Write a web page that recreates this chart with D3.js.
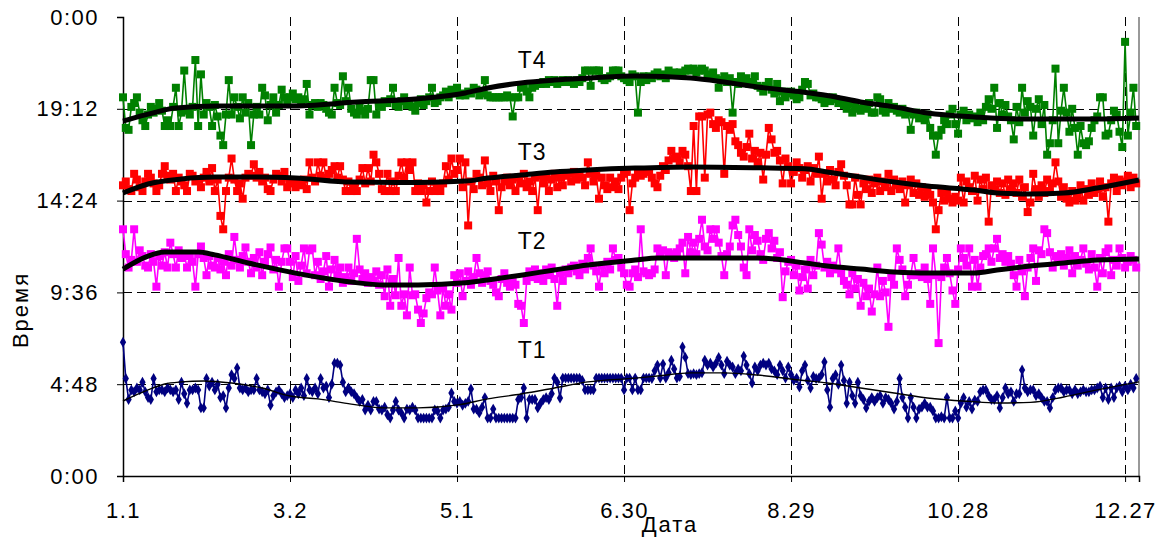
<!DOCTYPE html>
<html><head><meta charset="utf-8">
<script src="https://cdn.jsdelivr.net/npm/d3@7"></script>
<style>body{margin:0;background:#fff}svg{display:block}</style>
</head><body>
<svg id="c" width="1168" height="539"></svg>
<script>
// ---- data ----
const xTickDays = [1, 61, 121, 181, 241, 301, 361];
const xTickLabels = ["1.1", "3.2", "5.1", "6.30", "8.29", "10.28", "12.27"];
const yTicks = [0, 4.8, 9.6, 14.4, 19.2, 24];
const yTickLabels = ["0:00", "4:48", "9:36", "14:24", "19:12", "0:00"];
const seriesNames = ["T1", "T2", "T3", "T4"];
const seriesColors = ["#000080", "#ff00ff", "#ff0000", "#008000"];
// label anchor (day, hour)
const labelPos = [[148, 6.6], [148, 12.3], [148, 16.95], [148, 21.75]];

// daily values (hours), day 1..365
const t1 = [7.0,5.1,4.0,4.5,4.4,4.6,4.5,4.9,4.4,4.1,
4.0,5.1,4.4,4.5,4.5,4.4,4.6,4.5,4.4,4.5,
4.0,4.9,4.3,3.8,4.5,4.5,4.6,4.5,3.56,3.56,
5.1,4.7,4.9,4.5,4.8,4.1,4.2,3.56,4.6,5.3,
5.1,5.65,4.6,4.5,4.6,4.4,4.5,4.5,5.1,4.5,
4.4,4.3,4.5,3.7,4.2,4.4,4.5,4.3,4.1,4.2,
4.3,4.1,4.5,4.3,4.6,4.2,5.1,4.5,4.4,4.6,
4.3,5.1,4.6,4.7,4.1,4.8,5.9,5.9,5.8,4.9,
4.4,4.6,4.4,4.3,4.1,3.9,4.0,3.45,3.7,3.45,
3.9,3.9,3.5,3.45,3.6,3.2,3.03,3.45,3.9,3.45,
3.3,3.03,3.5,3.45,3.6,3.45,3.03,3.03,3.03,3.03,
3.03,3.03,3.45,3.4,3.03,3.45,3.5,3.6,4.34,3.9,
3.8,3.9,3.7,3.8,3.9,4.55,3.5,3.5,3.3,3.6,
4.1,3.03,3.03,3.5,3.03,3.03,3.03,3.03,3.03,3.03,
3.03,3.03,4.0,4.1,4.6,3.03,4.0,4.0,4.0,3.56,
3.8,4.0,4.1,4.0,4.3,5.12,4.9,4.08,5.12,5.12,
5.12,5.12,5.12,5.12,5.12,5.0,4.5,4.5,4.5,4.5,
5.12,5.12,5.12,5.12,5.12,5.12,5.12,5.12,5.12,5.12,
4.5,5.12,5.12,4.5,5.12,4.5,4.5,5.12,5.12,5.12,
5.1,5.5,5.8,5.12,5.85,5.12,5.4,6.05,5.6,5.12,
5.2,6.75,6.2,5.35,5.3,5.35,5.3,5.35,5.4,6.05,
5.8,5.9,5.7,5.9,6.2,5.8,5.35,6.0,5.8,5.7,
5.35,5.6,5.5,6.27,5.8,5.35,4.86,5.7,5.5,5.8,
5.9,5.8,5.9,5.6,5.5,5.3,5.8,5.5,5.12,5.7,
5.3,5.0,5.12,4.65,5.5,5.8,5.0,4.6,5.2,5.1,
5.12,5.3,5.96,4.5,3.6,5.1,5.3,4.8,5.8,5.0,
3.8,4.9,4.2,3.8,4.9,4.2,4.0,3.56,3.9,4.1,
3.9,4.1,4.2,3.8,4.1,4.0,3.8,3.5,3.9,5.1,
4.1,3.6,3.03,4.1,3.6,3.03,3.5,3.6,3.8,3.6,
3.6,3.4,3.03,3.03,3.1,3.03,4.1,3.03,3.03,3.4,
3.03,3.8,4.1,3.6,3.9,3.5,3.97,3.9,4.4,4.5,
4.5,4.2,4.0,4.0,4.2,3.56,4.1,4.6,4.3,4.4,
3.9,4.3,4.3,5.54,4.6,4.4,4.5,4.5,4.2,4.3,
4.1,3.9,3.9,3.56,4.1,4.5,4.6,4.6,4.4,4.5,
4.5,4.3,4.5,4.3,4.4,4.5,4.4,4.4,4.5,4.5,
4.6,4.7,4.1,4.6,4.0,4.6,4.1,4.6,4.7,4.4,
4.7,4.5,4.8,4.6,5.1];

const t2 = [12.9,11.6,10.9,11.3,12.9,11.2,11.8,11.5,11.0,10.9,
11.6,11.2,9.9,11.5,11.0,11.7,10.9,12.2,11.6,10.9,
11.8,11.4,11.6,10.9,11.5,11.2,9.9,11.6,12.0,11.4,
10.5,11.5,11.0,10.9,11.4,10.8,11.2,10.5,11.6,11.0,
12.5,11.3,10.9,11.5,11.95,11.2,10.6,11.4,10.9,11.7,
10.5,11.2,11.6,11.95,10.8,11.3,9.9,11.2,11.9,11.9,
11.2,10.4,11.5,10.2,11.0,11.9,10.6,11.8,11.9,10.5,
11.2,10.3,10.7,11.5,9.9,10.8,11.3,10.5,10.9,10.1,
10.4,10.9,10.2,10.6,12.4,10.8,10.3,10.6,10.1,10.4,
10.2,10.7,10.0,10.5,9.4,10.8,8.9,10.3,9.45,11.4,
8.9,9.5,8.4,10.9,9.45,9.5,8.7,8.0,8.5,9.3,
9.6,9.5,10.9,9.7,8.4,9.8,8.9,9.5,8.7,10.5,
10.1,10.6,9.4,10.2,10.7,10.0,10.4,11.4,10.6,10.1,
10.5,10.7,10.2,10.0,9.6,9.4,10.3,10.6,10.1,9.9,
10.3,10.0,9.0,8.9,8.0,10.2,10.7,10.4,10.8,10.3,
10.6,10.2,10.8,10.5,10.9,10.3,8.9,10.6,10.2,10.8,
10.6,10.9,11.0,10.7,10.5,11.1,10.8,11.4,11.9,11.0,
10.7,9.9,11.0,10.6,11.2,10.8,11.9,11.3,11.4,10.9,
10.6,10.0,9.9,10.6,10.8,10.4,12.9,10.7,10.6,10.5,
10.6,10.8,11.9,11.5,11.8,10.5,11.7,11.6,11.4,11.7,
11.9,12.2,10.6,12.5,11.7,12.2,11.6,12.4,13.4,12.0,
11.8,12.9,12.4,12.9,12.2,11.5,10.5,11.6,12.0,13.1,
13.4,12.6,12.0,10.9,10.5,12.9,11.8,12.6,12.3,11.6,
11.3,12.4,12.7,11.9,12.3,11.4,11.7,9.35,10.7,11.2,
11.3,10.5,11.0,9.7,10.4,10.8,9.8,11.3,10.5,11.0,
12.7,12.1,10.9,11.2,10.6,11.0,10.8,11.9,10.6,10.2,
10.0,9.5,10.6,9.8,10.3,8.9,10.1,9.4,9.8,8.6,
9.5,10.9,9.4,10.2,9.6,7.8,10.4,10.0,11.9,11.3,
10.8,9.4,10.0,10.5,11.4,10.5,10.6,10.4,10.9,10.3,
9.0,11.9,10.5,6.95,10.4,10.9,11.4,10.6,9.7,9.0,
10.8,11.9,11.4,11.0,11.9,9.9,11.3,9.9,10.9,11.5,
11.6,11.9,11.2,11.9,12.4,11.4,11.6,11.2,11.5,11.1,
10.5,9.9,11.3,10.7,9.4,10.9,11.4,11.9,10.2,11.8,
11.6,12.9,12.7,11.7,10.9,11.5,11.3,11.6,11.0,11.4,
11.8,10.6,11.5,11.0,11.3,11.9,11.1,10.8,11.6,10.9,
9.9,11.4,10.6,11.7,11.9,10.5,11.3,11.0,11.9,11.4,
10.9,11.2,11.5,11.3,10.9];

const t3 = [15.2,15.4,15.0,14.9,15.8,15.5,15.1,14.9,15.4,15.8,
15.6,15.3,14.9,15.2,15.8,16.2,15.7,15.5,15.8,14.9,
15.6,15.4,15.2,14.9,15.8,15.7,15.4,15.5,15.1,15.6,
15.9,15.4,16.1,14.9,15.5,13.6,12.9,14.9,15.6,16.6,
15.5,14.9,15.3,14.5,15.6,15.8,15.7,16.3,15.6,15.9,
15.4,15.6,15.0,14.9,15.5,15.8,15.7,15.4,15.9,15.1,
15.3,15.4,15.1,15.4,15.2,15.5,15.0,16.4,15.6,15.4,
16.4,15.7,16.4,15.6,15.8,16.0,16.2,15.6,16.2,15.5,
14.9,15.4,14.9,15.2,14.9,15.5,16.1,15.3,16.1,15.4,
16.8,16.4,15.8,15.0,14.9,15.8,14.9,15.4,14.9,15.7,
16.4,15.6,16.4,16.0,16.4,14.9,15.3,14.9,15.2,14.3,
14.9,15.4,14.9,15.1,14.9,15.3,16.2,15.5,16.6,15.8,
16.0,16.6,15.1,16.4,13.1,15.4,15.0,15.8,15.6,15.2,
16.5,15.3,14.9,15.7,15.4,13.9,15.1,15.4,15.6,15.2,
15.5,14.9,15.6,15.3,15.8,15.1,15.4,14.9,15.6,13.9,
15.7,15.3,15.6,14.9,15.5,15.8,15.1,15.6,15.2,15.7,
15.8,15.4,15.9,15.5,15.7,15.6,15.2,16.4,15.8,15.4,
15.7,14.5,15.6,15.2,15.0,15.6,15.1,15.4,15.0,15.6,
15.8,15.9,13.9,15.3,15.6,15.9,15.7,15.8,16.0,15.9,
15.6,15.3,15.1,15.7,16.2,16.0,16.5,17.0,16.6,16.7,
16.4,17.0,16.8,16.2,14.9,18.3,14.9,18.8,18.8,15.6,
18.9,19.0,18.4,18.2,18.6,18.5,15.8,18.3,18.1,18.4,
17.5,17.3,16.9,16.7,17.2,17.9,16.6,17.0,16.4,16.9,
15.5,16.8,18.2,17.6,16.9,17.0,16.5,15.3,16.6,16.2,
15.3,15.9,16.4,16.1,15.6,16.0,16.2,15.4,16.1,15.8,
16.7,14.5,15.8,15.4,16.0,15.5,15.2,15.9,16.3,15.7,
15.2,14.2,14.2,15.6,14.7,14.2,15.3,15.0,15.5,14.8,
15.3,15.6,14.9,15.4,15.1,15.8,14.9,15.5,15.2,15.0,
15.4,14.3,15.2,15.5,14.8,15.3,14.7,15.1,14.6,15.0,
14.7,14.3,12.9,13.9,14.8,14.4,14.9,14.5,14.3,14.6,
14.4,15.6,14.3,15.4,15.1,14.9,15.7,14.4,15.5,15.0,
15.6,13.3,15.2,15.0,15.4,14.8,15.3,14.7,15.5,15.0,
15.3,14.8,15.5,14.6,15.1,13.8,14.3,15.8,15.0,14.6,
15.2,14.8,15.5,14.9,15.3,16.4,15.4,14.6,15.1,14.5,
14.3,14.9,14.4,14.6,15.2,14.4,15.0,14.7,15.3,14.8,
15.0,15.4,14.6,15.1,13.3,15.3,15.6,14.9,15.5,15.2,
15.4,15.7,15.1,15.6,15.3];

const t4 = [19.8,18.2,18.1,19.3,19.5,19.8,19.0,18.6,18.3,18.9,
19.3,19.0,19.2,19.5,19.1,18.3,18.6,18.3,19.3,20.3,
18.3,19.0,21.2,19.1,18.9,19.3,21.75,18.3,21.0,18.9,
19.5,19.3,18.3,19.4,18.8,17.8,17.3,18.9,20.7,18.9,
19.8,19.3,18.7,19.8,19.0,19.5,17.3,18.9,19.3,18.9,
20.3,19.9,18.6,19.4,19.8,19.0,19.4,20.2,19.8,19.5,
19.8,20.0,19.7,19.8,19.6,19.7,20.5,18.9,19.4,19.5,
19.3,19.5,19.4,19.2,19.0,18.9,20.3,19.5,19.4,20.9,
19.6,20.3,19.2,19.0,18.9,19.3,19.1,18.9,19.2,20.7,
20.7,18.9,19.4,19.3,19.6,19.5,19.7,20.3,19.4,19.3,
19.6,19.8,19.4,19.5,19.3,19.1,19.5,19.7,19.4,19.6,
19.8,20.3,19.5,19.6,19.8,19.9,20.1,19.8,20.2,20.0,
20.3,19.9,20.0,19.9,20.1,20.0,20.3,20.2,19.9,20.0,
20.7,19.9,19.8,19.8,19.8,19.8,19.8,19.8,19.9,19.8,
18.8,19.8,19.8,20.3,20.4,20.1,19.8,20.3,20.4,20.5,
20.5,20.6,20.5,20.7,20.6,20.7,20.5,20.6,20.7,20.6,
20.7,20.6,20.5,20.7,20.6,20.8,21.2,21.2,20.4,21.2,
21.2,21.2,20.8,20.7,20.8,20.9,21.2,21.2,21.2,20.9,
20.8,20.7,20.6,21.0,20.9,19.0,20.6,20.9,20.7,20.9,
20.8,21.0,21.1,20.9,21.0,20.8,21.2,21.0,21.1,21.0,
21.1,21.0,21.2,21.3,21.2,21.3,21.1,21.2,21.3,21.2,
21.0,20.9,21.1,20.8,20.3,20.7,20.9,20.6,20.8,19.0,
20.6,20.5,20.9,20.7,20.8,20.5,20.6,20.9,20.4,20.3,
20.1,20.4,20.6,20.2,20.0,20.5,19.6,20.1,19.8,20.0,
20.1,19.9,19.7,19.8,20.2,20.6,20.5,19.9,20.0,19.8,
19.8,19.7,19.5,19.7,19.6,19.8,19.7,19.5,19.6,19.4,
19.2,19.5,19.0,19.3,19.2,19.1,19.4,19.2,19.5,19.0,
19.0,19.8,19.7,19.1,19.0,19.5,19.2,19.3,19.1,19.0,
19.2,18.9,19.0,18.1,18.9,19.0,18.7,18.8,18.6,18.9,
18.2,17.8,16.8,17.8,18.1,18.6,18.4,18.9,19.2,18.4,
17.9,18.9,19.1,18.6,18.9,18.7,18.8,18.5,19.0,18.6,
19.3,19.7,19.2,20.3,18.2,19.5,18.9,19.4,18.8,18.6,
17.6,19.3,18.5,20.3,19.0,19.6,19.3,17.8,19.2,19.7,
18.4,19.4,16.8,17.4,18.6,21.3,17.4,19.1,20.3,19.0,
18.0,19.2,18.2,16.8,18.3,17.4,17.3,17.5,18.2,18.6,
18.8,19.8,19.8,17.8,17.9,18.6,19.1,18.9,18.0,17.2,
22.7,17.8,19.0,20.3,18.3];

// trend curves: [day, hours]
const trend1 = [[1,3.92],[10,4.5],[16,4.81],[22,4.92],[30,4.97],[40,4.86],[51,4.6],[61,4.18],[71,4.03],[83,3.76],[95,3.56],[107,3.56],[122,3.73],[132,4.03],[144,4.29],[156,4.6],[168,4.92],[185,5.12],[193,5.23],[205,5.39],[217,5.39],[229,5.28],[244,5.02],[254,4.86],[266,4.6],[278,4.34],[290,4.08],[305,3.9],[315,3.82],[327,3.85],[339,4.13],[351,4.5],[366,4.92]];
const trend2 = [[1,10.82],[10,11.5],[16,11.71],[28,11.71],[34,11.56],[46,11.14],[63,10.61],[71,10.4],[83,10.14],[95,9.99],[107,9.99],[124,10.1],[132,10.25],[144,10.5],[156,10.77],[168,11.03],[185,11.29],[193,11.4],[229,11.4],[246,11.14],[254,10.98],[266,10.82],[278,10.67],[290,10.61],[307,10.61],[315,10.77],[327,10.98],[339,11.14],[351,11.29],[366,11.35]];
const trend3 = [[1,14.8],[10,15.27],[22,15.53],[34,15.63],[50,15.63],[63,15.58],[83,15.37],[107,15.35],[124,15.42],[132,15.58],[144,15.74],[156,15.9],[168,16.0],[185,16.1],[205,16.16],[229,16.12],[246,16.07],[254,15.9],[266,15.63],[278,15.37],[290,15.16],[307,14.95],[315,14.8],[327,14.75],[339,14.8],[351,15.06],[366,15.48]];
const trend4 = [[1,18.56],[9,18.88],[20,19.24],[35,19.35],[61,19.35],[85,19.55],[109,19.75],[124,20.03],[132,20.29],[144,20.55],[156,20.7],[168,20.8],[185,20.92],[205,20.81],[217,20.6],[229,20.34],[244,20.1],[254,19.9],[266,19.56],[278,19.3],[290,18.98],[307,18.77],[322,18.67],[350,18.67],[366,18.72]];

// ---- drawing ----
const svg = d3.select("#c");
const L = 123, R = 1139, T = 17, B = 476;
const x = d3.scaleLinear().domain([1, 366]).range([L, R]);
const y = d3.scaleLinear().domain([0, 24]).range([B, T]);
const FONT = "'Liberation Sans', Arial, sans-serif";
const crisp = v => Math.round(v) + 0.5;

// gridlines
svg.append("g").selectAll("line").data(yTicks.filter(v => v > 0 && v < 24)).join("line")
  .attr("x1", L).attr("x2", R).attr("y1", d => crisp(y(d))).attr("y2", d => crisp(y(d)))
  .attr("stroke", "#000").attr("stroke-width", 1).attr("stroke-dasharray", "9,5");
svg.append("g").selectAll("line").data(xTickDays.slice(1)).join("line")
  .attr("x1", d => crisp(x(d))).attr("x2", d => crisp(x(d))).attr("y1", T).attr("y2", B)
  .attr("stroke", "#000").attr("stroke-width", 1).attr("stroke-dasharray", "9,5");

// right border
svg.append("line").attr("x1", R).attr("x2", R).attr("y1", T).attr("y2", B)
  .attr("stroke", "#999").attr("stroke-width", 2);

// axes
const yAxis = d3.axisLeft(y).tickValues(yTicks).tickFormat((d, i) => yTickLabels[i]).tickSize(6).tickPadding(18);
const gy = svg.append("g").attr("transform", `translate(${L},0)`).call(yAxis);
const xAxis = d3.axisBottom(x).tickValues(xTickDays).tickFormat((d, i) => xTickLabels[i]).tickSize(6).tickPadding(20);
const gx = svg.append("g").attr("transform", `translate(0,${B})`).call(xAxis);
[gx, gy].forEach(g => {
  g.select(".domain").attr("stroke", "#000").attr("stroke-width", 1.5);
  g.selectAll(".tick line").attr("stroke", "#000");
  g.selectAll("text").attr("font-family", FONT).attr("font-size", 22).attr("fill", "#000")
    .attr("letter-spacing", 1.5);
});

// series
const all = [t1, t2, t3, t4];
const line = d3.line().x((d, i) => x(i + 1)).y(d => y(d));
all.forEach((vals, k) => {
  const g = svg.append("g");
  g.append("path").attr("d", line(vals)).attr("fill", "none")
    .attr("stroke", seriesColors[k]).attr("stroke-width", 1.6);
  if (k === 0) {
    const sym = d3.symbol().type(d3.symbolDiamond).size(34);
    g.selectAll("path.m").data(vals).join("path").attr("class", "m")
      .attr("d", sym).attr("transform", (d, i) => `translate(${x(i + 1)},${y(d)})`)
      .attr("fill", seriesColors[k]);
  } else {
    g.selectAll("rect").data(vals).join("rect")
      .attr("x", (d, i) => x(i + 1) - 4).attr("y", d => y(d) - 4)
      .attr("width", 8).attr("height", 8).attr("fill", seriesColors[k]);
  }
});

// trend lines
const tline = d3.line().x(d => x(d[0])).y(d => y(d[1])).curve(d3.curveMonotoneX);
[trend1, trend2, trend3, trend4].forEach((tr, k) => {
  svg.append("path").attr("d", tline(tr)).attr("fill", "none")
    .attr("stroke", "#000").attr("stroke-width", k === 0 ? 1.4 : 5);
});

// series labels
svg.append("g").selectAll("text").data(seriesNames).join("text")
  .attr("x", (d, i) => x(labelPos[i][0])).attr("y", (d, i) => y(labelPos[i][1]))
  .attr("text-anchor", "middle").attr("dominant-baseline", "central")
  .attr("font-family", FONT).attr("font-size", 23).attr("letter-spacing", 1).text(d => d);

// axis titles
svg.append("text").attr("x", 670).attr("y", 532).attr("text-anchor", "middle")
  .attr("font-family", FONT).attr("font-size", 22).attr("letter-spacing", 2).text("Дата");
svg.append("text").attr("transform", "translate(28,310) rotate(-90)").attr("text-anchor", "middle")
  .attr("font-family", FONT).attr("font-size", 22).attr("letter-spacing", 2).text("Время");
</script>
</body></html>
